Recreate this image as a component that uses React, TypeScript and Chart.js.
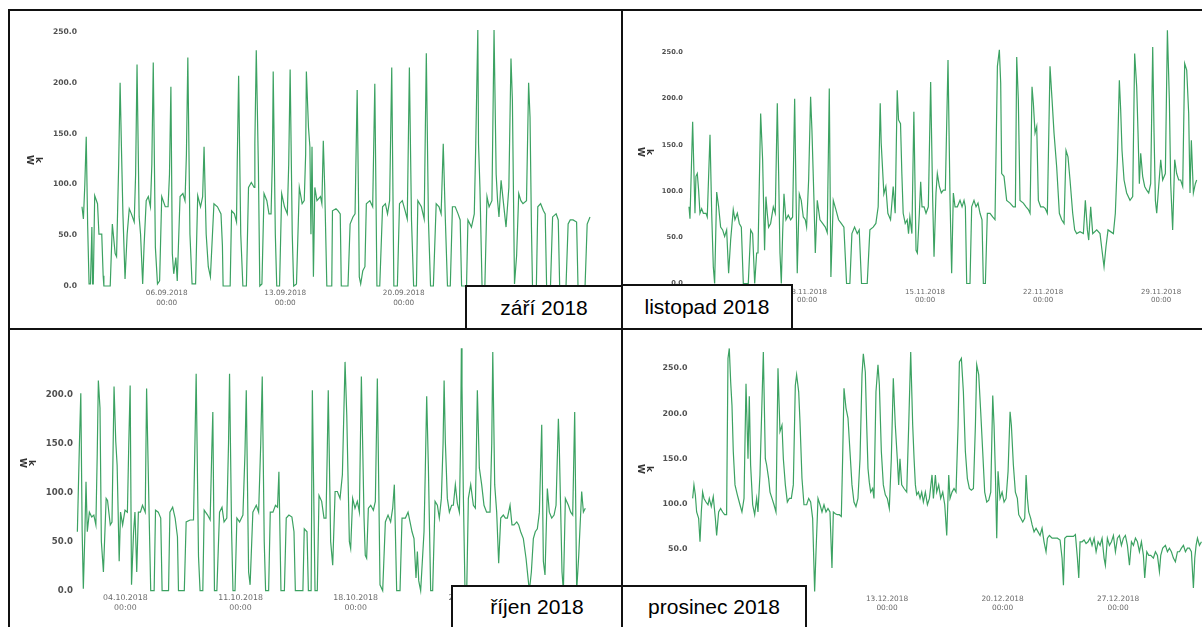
import { useEffect, useRef } from "react";
import { Chart, registerables } from "chart.js";

Chart.register(...registerables);

// ---- readings: [hour since start of month, kW] ----
const sepReadings: [number, number][] = [
  [0,78],[2,66],[4,100],[6,147],[8,60],[10,2],[12,2],[14,58],[15,2],[16,2],[18,89],[22,81],[24,51],[28,51],[30,10],[31,0],[40,0],[43,61],[47,32],[49,29],[52,120],[54,200],[56,133],[58,71],[61,7],[64,51],[67,76],[70,71],[74,63],[76,110],[78,218],[81,68],[83,51],[86,2],[88,40],[91,84],[94,88],[97,78],[99,120],[101,220],[104,38],[107,2],[110,5],[113,88],[118,78],[122,78],[124,110],[126,196],[128,32],[130,12],[133,28],[135,5],[139,88],[143,91],[146,84],[148,130],[150,225],[153,51],[156,2],[161,2],[164,89],[168,78],[171,88],[173,137],[176,51],[179,19],[182,9],[187,81],[192,78],[197,71],[199,40],[200,0],[210,0],[212,74],[216,71],[219,63],[220,120],[222,207],[225,51],[228,0],[233,0],[236,97],[240,102],[244,97],[245,140],[247,232],[250,117],[252,0],[255,2],[258,91],[262,84],[265,71],[268,71],[270,130],[271,211],[274,51],[276,0],[280,0],[283,91],[287,78],[291,71],[293,120],[295,213],[298,51],[300,0],[304,2],[308,97],[312,81],[315,84],[317,130],[318,211],[321,156],[323,137],[324.5,51],[326,137],[328,9],[330,97],[333,84],[338,88],[340,81],[342,143],[344,97],[347,0],[354,0],[355,74],[360,76],[363,74],[366,71],[367.5,0],[377,0],[380,61],[384,68],[387,71],[390,193],[392,80],[393,9],[395,2],[398,15],[401,19],[403,81],[408,84],[412,78],[415,199],[418,0],[422,0],[426,78],[430,81],[433,71],[436,84],[439,215],[442,0],[447,0],[450,81],[454,84],[458,74],[461,66],[464,215],[467,65],[470,0],[474,0],[476,84],[481,78],[485,66],[488,229],[491,65],[494,0],[498,0],[502,81],[506,78],[509,71],[512,140],[515,65],[518,0],[522,0],[525,78],[529,78],[533,71],[536,65],[538,0],[545,0],[547,65],[552,58],[556,71],[558,137],[561,252],[562,140],[564,97],[567,0],[571,0],[574,88],[577,78],[581,84],[584,252],[587,110],[589,84],[591,68],[594,104],[597,84],[601,58],[605,97],[608,224],[610,183],[613,2],[616,30],[619,91],[622,84],[625,81],[630,84],[633,200],[635,166],[637,58],[638.5,0],[644,0],[646,78],[650,81],[654,74],[656.5,71],[658.5,0],[664,0],[667,68],[672,71],[675,65],[677,0],[686,0],[689,61],[692,65],[696,65],[701,63],[703,0],[713,0],[716,61],[720,68]
];

const octReadings: [number, number][] = [
  [2,60],[5,150],[7,201],[9,60],[10.7,2],[13,60],[14.6,111],[16.5,60],[19.5,80],[23,75],[26,77],[29,67],[31,140],[32.6,214],[35,186],[37,50],[40,19],[44,94],[46,92],[50,67],[52.5,70],[55.5,208],[58,152],[60,128],[63,30],[65,80],[68,67],[71.5,82],[75,80],[77,150],[79,209],[81,6],[84,60],[86,80],[88.6,19],[91,80],[94,80],[97,87],[101,80],[103,206],[106.6,80],[109,0],[114,0],[116,82],[120,80],[123.6,74],[125.6,0],[135,0],[137,80],[141,85],[144.6,74],[148,55],[149.5,0],[158,0],[160.7,70],[166.5,72],[171.4,72],[173.5,150],[175.3,221],[178.7,35],[181,0],[185,0],[187,82],[192,77],[195.7,72],[198,140],[199.6,182],[202,0],[205.5,0],[209.4,80],[213,85],[216,70],[220,74],[222.5,150],[224,221],[227,60],[229,0],[232,0],[234.7,74],[238.6,70],[243.5,77],[246.5,140],[248.4,204],[251.8,19],[254,6],[258,80],[263,87],[266.4,80],[269.5,150],[271.7,218],[274.6,50],[276.6,0],[281,0],[283.4,80],[287.3,80],[291,87],[294,85],[296,121],[299,0],[304,0],[306.7,74],[310.6,77],[315,75],[318,60],[320,0],[331,0],[333,63],[337,60],[339,0],[343,0],[344.8,204],[348.7,0],[352,0],[354.5,97],[358.4,91],[361.8,74],[364.7,74],[366.5,140],[368,204],[371.5,50],[374.5,26],[378,101],[381.3,101],[385.2,94],[388.6,118],[392.5,233],[395,179],[398.8,50],[400.7,43],[403.6,94],[407,84],[410.4,91],[413.4,80],[416.3,218],[417.3,182],[420.2,74],[422,36],[424,33],[426.5,84],[430,87],[433.8,82],[436.7,91],[439.6,216],[443.5,6],[447.4,0],[451.3,70],[455.2,77],[459,70],[462,84],[464.4,108],[467.8,0],[472.7,0],[475.6,74],[480.5,74],[484.4,80],[487.3,70],[490.2,60],[493.1,53],[496,13],[498,40],[500,10],[502.8,0],[507.7,60],[509.5,120],[511.6,198],[514,128],[517.4,0],[520.3,0],[523.8,91],[527.2,87],[530,74],[533,94],[535.5,150],[537,214],[538.8,152],[541.7,94],[544.7,80],[548,87],[550.5,87],[553.4,108],[556.3,89],[559.3,80],[561,150],[562.2,247],[563.1,209],[565,101],[567.5,0],[570,0],[572.4,94],[575.8,108],[579.7,87],[582.6,84],[584,140],[585.5,204],[588.4,125],[591.8,108],[595.2,87],[599,80],[604,80],[606.5,150],[608,243],[610.8,108],[613.7,80],[616.6,28],[619.6,74],[623.4,77],[626.4,74],[629.3,74],[633.2,87],[636,67],[639,67],[643,70],[645.8,67],[648.7,60],[652.6,53],[656.5,33],[659.4,13],[661.4,0],[664.3,19],[667.2,53],[670,60],[673,63],[676,80],[679.4,169],[681.8,30],[684.2,16],[687.6,104],[690.5,80],[694,74],[697.4,77],[700.3,87],[703.7,175],[705,148],[707,84],[709,19],[711,0],[713.9,94],[718.3,87],[721.7,80],[724.6,77],[727.5,182],[730.4,0],[733.4,36],[737.7,101],[740.2,80],[743,84]
];

const novReadings: [number, number][] = [
  [0,83],[1.4,70],[5.2,175],[8.5,76],[9.9,116],[11.8,119],[13.7,101],[15.6,76],[18,81],[20.4,76],[24.2,76],[26,72],[29.9,161],[32.3,76],[34.6,18],[36.5,0],[39.4,99],[42.2,83],[45,61],[47.9,58],[50.7,51],[53.6,58],[56.4,11],[59.3,47],[63,80],[65.4,69],[68.8,76],[71.6,65],[74.5,61],[77.3,0],[84.4,0],[87.8,58],[90.6,54],[93.5,0],[96.3,33],[98.2,33],[102,184],[104.8,134],[107.6,36],[109.5,94],[111.4,76],[113.3,61],[116.2,65],[120,83],[122.8,76],[125.7,195],[127.6,119],[129.5,33],[131.4,0],[133.3,54],[135.2,97],[138,69],[141.3,74],[144.7,69],[147.5,72],[150.4,200],[152.2,105],[154.1,11],[157,97],[159.8,90],[162.7,72],[165.5,69],[167.4,61],[170.3,112],[173.1,202],[175,166],[177.9,90],[179.8,33],[182.6,90],[186.4,69],[190.2,65],[194,61],[196.8,55],[199.7,211],[202,7],[205.4,90],[209.1,80],[212.9,69],[216.7,65],[220.5,61],[224.3,0],[229,0],[231.9,54],[235.7,61],[239.5,54],[242.3,58],[245.6,0],[253.7,0],[257.5,58],[262.2,61],[266,65],[269.3,83],[272.2,195],[273.6,152],[277.4,97],[280.2,105],[283.1,76],[286.9,69],[290.7,105],[293.5,76],[296.4,209],[298.3,177],[301.1,173],[303,119],[304.9,76],[307.8,65],[310.6,69],[312.5,54],[314.4,72],[317.3,54],[320.1,186],[323.2,36],[325.1,33],[327.9,76],[329.8,110],[331.7,83],[334.6,83],[337.4,76],[340.7,83],[344,218],[346.9,90],[348.8,29],[351.6,98],[353.5,119],[356.4,105],[359.2,98],[362.1,101],[364.9,101],[368.7,242],[371.6,90],[373.9,11],[376.3,98],[378.7,83],[382,83],[385.8,90],[388.7,83],[391.5,90],[393.4,83],[395.3,0],[400,0],[402.4,83],[405.7,90],[408.6,83],[411.4,87],[414.3,76],[417.1,69],[419,0],[421.9,0],[424.7,76],[428.5,76],[432.3,72],[435.6,69],[439,235],[441.8,253],[443.7,217],[445.1,119],[448.4,116],[452.2,90],[457,87],[461.7,83],[464.6,83],[466.5,245],[468.8,199],[471.2,90],[476,87],[479.8,83],[483.1,80],[485.5,76],[488.3,213],[490.2,195],[492.6,163],[495,170],[497.3,90],[500.6,83],[504.4,83],[507.3,81],[510.1,76],[513.9,235],[516.8,199],[519.6,163],[523.4,126],[527.2,76],[530.5,69],[533.9,65],[536.7,144],[539.5,137],[542.4,112],[546.2,76],[549,58],[551.9,54],[556.6,56],[561.4,54],[564.2,90],[567.1,58],[569,47],[571.8,83],[574.7,54],[580.4,58],[585.1,54],[587.9,36],[590.8,18],[593.6,40],[596.5,58],[604.1,54],[606.9,76],[609.8,134],[612.6,220],[614.5,188],[616.4,144],[619.3,112],[623,98],[627.8,90],[631.6,94],[634.4,249],[637.3,213],[639.2,163],[641.1,108],[643,141],[645.8,116],[648.7,105],[651.5,101],[654.4,98],[657.2,108],[660.1,256],[662,163],[663.9,90],[665.8,76],[668.6,105],[671.5,134],[674.3,112],[678.1,119],[681,274],[683.8,199],[685.7,108],[688.5,58],[691.4,134],[694.2,119],[697.1,112],[699.9,112],[702.8,105],[705.6,238],[708.5,231],[711.3,184],[713.2,98],[715.1,155],[718,98],[720.8,108],[722.7,112]
];

const decReadings: [number, number][] = [
  [5.3,106],[7.2,121],[9.2,110],[11.1,91],[14,84],[16,58],[17.9,91],[19.8,113],[21.8,106],[24.7,102],[27.6,99],[29.5,106],[32.4,97],[35.3,108],[38.3,84],[40.2,65],[43.1,91],[46,95],[48.9,91],[51.8,88],[54.7,88],[56.7,261],[58.6,272],[60.6,235],[62.5,209],[64.4,158],[66.9,121],[70.3,110],[74.1,99],[77,91],[80,106],[82.9,233],[85.8,150],[87.7,219],[89.6,143],[92.6,99],[95.5,88],[98.4,106],[100.3,91],[103.2,132],[108.1,268],[111,150],[112.9,143],[115.8,128],[117.8,113],[120.7,106],[123.6,99],[126.5,91],[129.4,250],[132.3,180],[135.2,187],[137.2,150],[140.1,121],[143,102],[145.9,106],[148.8,106],[151.7,121],[154.6,231],[156.5,243],[159.5,224],[161.4,191],[164.3,128],[167.2,99],[171.1,99],[174,106],[176.9,102],[179.8,84],[182.7,3],[184.7,47],[187.6,106],[190.5,99],[193.4,91],[196.3,99],[199.2,91],[202.1,95],[205,91],[207.9,29],[209.9,91],[212.8,89],[215.7,88],[218.6,88],[221.5,86],[223.4,150],[225.4,228],[228.3,206],[231.2,195],[234.1,158],[237,121],[239.9,102],[242.8,97],[245.7,106],[248.7,150],[251.6,243],[253.5,266],[256.4,246],[258.4,187],[260.3,139],[262.2,124],[264.2,113],[267.1,117],[269,106],[271.9,224],[274.8,254],[276.8,232],[279.7,158],[282.6,121],[285.5,110],[288.4,106],[291.3,95],[294.2,150],[297.1,239],[300,187],[302.9,150],[304.9,121],[306.8,150],[309.3,121],[312.7,117],[316.6,113],[319.5,187],[322.4,268],[325.3,187],[327.3,150],[329.2,121],[331.1,110],[333.6,113],[336,106],[338.4,113],[340.8,102],[343.7,113],[346.7,99],[349.6,106],[353.4,132],[355.4,106],[358.3,132],[360.2,113],[363.1,121],[366,106],[369,113],[371.9,99],[374.8,65],[377.7,132],[379.6,106],[382.5,113],[385.4,117],[388.3,113],[391.3,187],[393.2,257],[396.1,261],[399,224],[401.9,158],[404.8,128],[407.7,117],[410.6,115],[413.6,117],[416.5,187],[418.4,254],[421.3,243],[424.2,202],[427.1,158],[430,113],[433,102],[435.9,104],[438.8,113],[441.7,220],[443.6,187],[445.6,132],[447.5,62],[449.4,136],[452.3,106],[455.3,113],[458.2,102],[461.1,106],[464,136],[466.9,202],[468.8,187],[471.7,143],[474.6,113],[477.5,106],[479.5,88],[482.4,84],[485.3,80],[488.2,84],[490.2,132],[492.1,106],[494,91],[496.9,84],[498.9,77],[501.8,69],[504.7,73],[507.6,69],[510.5,65],[513.4,73],[516.3,58],[519.2,47],[521.2,62],[524.1,65],[528,62],[531.9,62],[535.7,62],[539.6,60],[542.5,40],[544.5,10],[546.4,62],[549.3,64],[554.1,64],[559,64],[561.9,66],[564.8,40],[566.8,18],[568.7,58],[571.6,58],[574.5,60],[577.4,56],[580.3,58],[583.2,62],[586.1,54],[589.1,62],[592,47],[594.9,58],[597.8,54],[600.7,62],[603.6,40],[605.5,32],[608.4,62],[611.4,54],[614.3,58],[617.2,65],[620.1,47],[623,62],[625.9,65],[628.8,54],[631.7,62],[634.6,65],[637.5,54],[640.5,32],[643.4,58],[646.3,54],[649.2,62],[652.1,58],[655,47],[657.9,58],[660.8,43],[662.7,18],[665.7,47],[668.6,43],[671.5,43],[675.3,40],[678.3,47],[681.2,43],[684.1,25],[686,43],[688.9,51],[692.8,54],[695.7,47],[698.6,51],[701.5,47],[704.4,40],[707.3,36],[710.3,47],[713.2,47],[716.1,51],[719,54],[721.9,47],[724.8,51],[727.7,51],[730.6,47],[733.5,7],[735.5,40],[737.4,54],[739.4,62],[742.3,54],[745.2,58]
];

// ---- axis ticks ----
const sepTickHours = [120, 288, 456, 624];
const sepTickLabels = [["06.09.2018", "00:00"], ["13.09.2018", "00:00"], ["20.09.2018", "00:00"], ["27.09.2018", "00:00"]];
const octTickHours = [72, 240, 408, 576];
const octTickLabels = [["04.10.2018", "00:00"], ["11.10.2018", "00:00"], ["18.10.2018", "00:00"], ["25.10.2018", "00:00"]];
const novTickHours = [0, 168, 336, 504, 672];
const novTickLabels = [["01.11.2018", "00:00"], ["08.11.2018", "00:00"], ["15.11.2018", "00:00"], ["22.11.2018", "00:00"], ["29.11.2018", "00:00"]];
const decTickHours = [120, 288, 456, 624];
const decTickLabels = [["06.12.2018", "00:00"], ["13.12.2018", "00:00"], ["20.12.2018", "00:00"], ["27.12.2018", "00:00"]];
const yTicksFull = [0, 50, 100, 150, 200, 250];
const yTicksOct = [0, 50, 100, 150, 200];

const monthLabels = ["září 2018", "listopad 2018", "říjen 2018", "prosinec 2018"];
const unitLabel = ["k", "W"];

const LINE = "rgb(60,162,98)";

type PanelCfg = {
  readings: [number, number][];
  xMax: number;
  yMax: number;
  tickHours: number[];
  tickLabels: string[][];
  yTicks: number[];
  canvas: { left: number; top: number; width: number; height: number };
  plot: { left: number; right: number; top: number; bottom: number };
  yFont: number;
  yPad: number;
  xFont: number;
  xLine: number;
  xPad: number;
};

function Panel({ cfg }: { cfg: PanelCfg }) {
  const ref = useRef<HTMLCanvasElement | null>(null);
  useEffect(() => {
    const c = ref.current;
    if (!c) return;
    const cv = cfg.canvas;
    const p = cfg.plot;
    const yAxisW = p.left - cv.left;
    const xAxisH = cv.top + cv.height - p.bottom;
    const chart = new Chart(c, {
      type: "line",
      data: {
        datasets: [
          {
            data: cfg.readings.map(([x, y]) => ({ x, y })),
            borderColor: LINE,
            borderWidth: 1.2,
            pointRadius: 0,
            tension: 0,
            clip: false as any,
            fill: false,
          },
        ],
      },
      options: {
        responsive: false,
        animation: false,
        devicePixelRatio: 1,
        layout: {
          autoPadding: false,
          padding: {
            left: 0,
            top: p.top - cv.top,
            right: cv.left + cv.width - p.right,
            bottom: 0,
          },
        },
        plugins: { legend: { display: false }, tooltip: { enabled: false } },
        scales: {
          x: {
            type: "linear",
            min: 0,
            max: cfg.xMax,
            grid: { display: false, drawTicks: false },
            border: { display: false },
            ticks: {
              autoSkip: false,
              maxRotation: 0,
              minRotation: 0,
              padding: cfg.xPad,
              color: "#6a6a6a",
              font: { family: "DejaVu Sans", size: cfg.xFont, lineHeight: cfg.xLine },
              callback: (_v: any, i: number) => cfg.tickLabels[i],
            },
            afterBuildTicks: (s: any) => {
              s.ticks = cfg.tickHours.map((v) => ({ value: v }));
            },
            afterFit: (s: any) => {
              s.height = xAxisH;
            },
          },
          y: {
            type: "linear",
            min: 0,
            max: cfg.yMax,
            grid: { display: false, drawTicks: false },
            border: { display: false },
            ticks: {
              padding: cfg.yPad,
              color: "#505050",
              font: { family: "DejaVu Sans", size: cfg.yFont, weight: "bold" },
              callback: (v: any) => Number(v).toFixed(1),
            },
            afterBuildTicks: (s: any) => {
              s.ticks = cfg.yTicks.map((v) => ({ value: v }));
            },
            afterFit: (s: any) => {
              s.width = yAxisW;
            },
          },
        },
      } as any,
    });
    return () => chart.destroy();
  }, [cfg]);
  const cv = cfg.canvas;
  return (
    <canvas
      ref={ref}
      width={cv.width}
      height={cv.height}
      style={{ position: "absolute", left: cv.left, top: cv.top, width: cv.width, height: cv.height }}
    />
  );
}

const panels: PanelCfg[] = [
  {
    readings: sepReadings, xMax: 720, yMax: 260, tickHours: sepTickHours, tickLabels: sepTickLabels, yTicks: yTicksFull,
    canvas: { left: 10, top: 11, width: 611, height: 317 },
    plot: { left: 82, right: 590, top: 286 - 260 * 1.016, bottom: 286 },
    yFont: 7.6, yPad: 5, xFont: 7.3, xLine: 1.35, xPad: 2,
  },
  {
    readings: novReadings, xMax: 724, yMax: 280, tickHours: novTickHours, tickLabels: novTickLabels, yTicks: yTicksFull,
    canvas: { left: 623, top: 11, width: 579, height: 317 },
    plot: { left: 689, right: 1197.6, top: 283.5 - 280 * 0.924, bottom: 283.5 },
    yFont: 6.7, yPad: 6, xFont: 7, xLine: 1.2, xPad: 4.5,
  },
  {
    readings: octReadings, xMax: 744, yMax: 249, tickHours: octTickHours, tickLabels: octTickLabels, yTicks: yTicksOct,
    canvas: { left: 10, top: 330, width: 611, height: 297 },
    plot: { left: 76, right: 586, top: 590.7 - 249 * 0.982, bottom: 590.7 },
    yFont: 8.6, yPad: 3, xFont: 7.8, xLine: 1.2, xPad: 3,
  },
  {
    readings: decReadings, xMax: 746, yMax: 280, tickHours: decTickHours, tickLabels: decTickLabels, yTicks: yTicksFull,
    canvas: { left: 623, top: 330, width: 579, height: 297 },
    plot: { left: 689, right: 1202, top: 594.2 - 280 * 0.9035, bottom: 594.2 },
    yFont: 7.9, yPad: 1.5, xFont: 7.4, xLine: 1.15, xPad: 1,
  },
];

const unitPos = [
  { x: 34, y: 160 },
  { x: 645, y: 152 },
  { x: 27, y: 463 },
  { x: 645, y: 469 },
];

const boxes = [
  { left: 465, top: 285, width: 158, height: 45 },
  { left: 621, top: 284, width: 172, height: 46 },
  { left: 451, top: 585, width: 172, height: 44 },
  { left: 621, top: 585, width: 186, height: 44 },
];

const lines = [
  { left: 8, top: 9, width: 1194, height: 2 },
  { left: 8, top: 9, width: 2, height: 618 },
  { left: 8, top: 328, width: 1194, height: 2 },
  { left: 621, top: 9, width: 2, height: 618 },
];

export default function App() {
  return (
    <div style={{ position: "absolute", left: 0, top: 0, width: 1202, height: 627, background: "#fff", overflow: "hidden" }}>
      {panels.map((p, i) => (
        <Panel key={i} cfg={p} />
      ))}
      {unitPos.map((u, i) => (
        <div
          key={"u" + i}
          style={{
            position: "absolute",
            left: u.x,
            top: u.y,
            transform: "translate(-50%, -50%) rotate(90deg)",
            fontFamily: "DejaVu Sans",
            fontWeight: "bold",
            fontSize: 9,
            lineHeight: "9px",
            color: "#333",
            textAlign: "center",
          }}
        >
          {unitLabel[0]}
          <br />
          {unitLabel[1]}
        </div>
      ))}
      {lines.map((l, i) => (
        <div key={"l" + i} style={{ position: "absolute", ...l, background: "#111" }} />
      ))}
      {boxes.map((b, i) => (
        <div
          key={"b" + i}
          style={{
            position: "absolute",
            left: b.left,
            top: b.top,
            width: b.width,
            height: b.height,
            boxSizing: "border-box",
            border: "2px solid #111",
            background: "#fff",
            display: "flex",
            alignItems: "center",
            justifyContent: "center",
            fontFamily: "Liberation Sans, Arial, sans-serif",
            fontSize: 21,
            color: "#000",
          }}
        >
          {monthLabels[i]}
        </div>
      ))}
    </div>
  );
}
